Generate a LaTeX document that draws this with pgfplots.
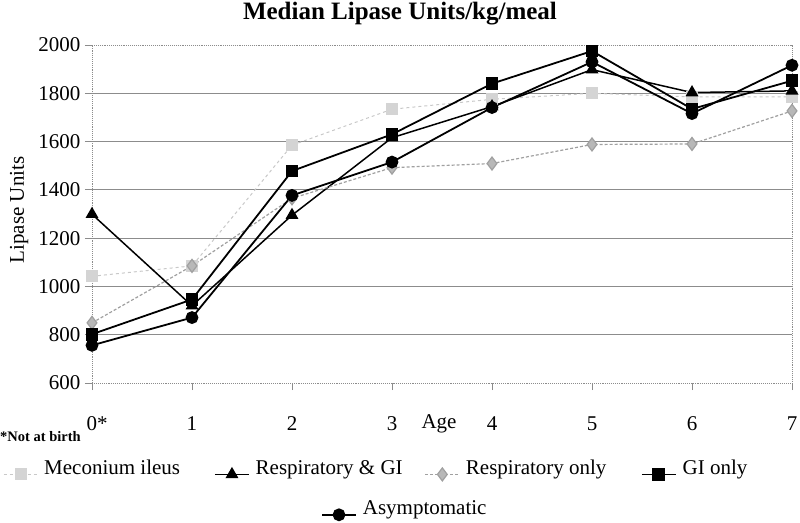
\documentclass[border=0pt]{standalone}
\usepackage{fontspec}
\setmainfont{Liberation Serif}
\usepackage{pgfplots}
\pgfplotsset{compat=1.18}
\definecolor{mecol}{HTML}{C8C8C8}
\definecolor{mefill}{HTML}{D4D4D4}
\definecolor{rocol}{HTML}{A0A0A0}
\definecolor{rofill}{HTML}{B8B8B8}
\definecolor{gridc}{HTML}{8C8C8C}
\begin{document}
\begin{tikzpicture}
\useasboundingbox (-92pt,-139pt) rectangle (708pt,383pt);
\pgfplotsset{
  lineleg/.style={legend image code/.code={
    \draw[##1, mark repeat=2, mark phase=2] plot coordinates {(0pt,0pt) (17pt,0pt) (34pt,0pt)};}},
}
\begin{axis}[
  at={(0pt,0pt)}, anchor=south west,
  scale only axis, width=700pt, height=338pt,
  xmin=0, xmax=7, ymin=600, ymax=2000,
  xtick={0,...,7}, xticklabels={0\rlap{*},1,2,3,4,5,6,7},
  ytick={600,800,...,2000},
  extra y ticks={800,1000,...,1800},
  extra y tick labels={},
  extra y tick style={ymajorgrids=true, major tick length=0pt},
  y grid style={gridc, line width=1.1pt},
  axis line style={gridc, densely dotted, line width=0.9pt},
  tick style={gridc, line width=0.9pt},
  tick align=outside, major tick length=7pt,
  xtick pos=bottom, ytick pos=left,
  /pgf/number format/assume math mode=true,
  /pgf/number format/1000 sep={},
  tick label style={font=\fontsize{21}{24}\selectfont, text=black},
  xticklabel style={yshift=-23pt},
  yticklabel style={xshift=-1pt},
  xlabel={Age},
  xlabel style={at={(axis description cs:0.4657,-0.136)}, anchor=base west, font=\fontsize{21}{24}\selectfont},
  ylabel={Lipase Units},
  ylabel style={at={(axis description cs:-0.104,0.512)}, anchor=center, font=\fontsize{21}{24}\selectfont},
  title={\textbf{Median Lipase Units/kg/meal}},
  title style={at={(axis description cs:0.44,1.059)}, anchor=base, yshift=0pt, font=\fontsize{25}{28}\selectfont},
  clip=false,
  legend columns=4,
  legend style={at={(-0.1271,-0.2585)}, anchor=west, draw=none, fill=none,
    inner sep=0pt, font=\fontsize{21}{24}\selectfont,
    nodes={inner sep=0pt, anchor=base west},
    /tikz/every odd column/.append style={column sep=6pt},
    /tikz/every even column/.append style={column sep=0pt}},
  legend cell align=left,
]
\addplot[lineleg, mecol, dashed, line width=1pt, mark=square*, mark size=5.5pt,
  mark options={solid, fill=mefill, draw=mefill}]
  coordinates {(0,1042) (1,1085) (2,1585) (3,1734) (4,1775) (5,1800) (6,1785) (7,1785)};
\addlegendentry{\makebox[170pt][l]{Meconium ileus}}
\addplot[lineleg, black, line width=1.5pt, mark=triangle*, mark size=6pt,
  mark options={solid, fill=black}]
  coordinates {(0,1299) (1,920) (2,1295) (3,1616) (4,1745) (5,1898) (6,1803) (7,1810)};
\addlegendentry{\makebox[169pt][l]{Respiratory \& GI}}
\addplot[lineleg, rocol, densely dashed, line width=1.2pt, mark=diamond*, mark size=6.5pt,
  mark options={solid, fill=rofill, draw=rocol}]
  coordinates {(0,849) (1,1085) (2,1365) (3,1492) (4,1509) (5,1588) (6,1590) (7,1727)};
\addlegendentry{\makebox[175pt][l]{Respiratory only}}
\addplot[lineleg, black, line width=1.8pt, mark=square*, mark size=5.5pt,
  mark options={solid, fill=black}]
  coordinates {(0,802) (1,946) (2,1478) (3,1630) (4,1840) (5,1975) (6,1735) (7,1852)};
\addlegendentry{GI only}
\addplot[black, line width=1.8pt, mark=*, mark size=5.5pt, mark options={solid, fill=black}, forget plot]
  coordinates {(0,756) (1,871) (2,1377) (3,1515) (4,1741) (5,1930) (6,1716) (7,1916)};
\node[anchor=base west, font=\fontsize{14.5}{16}\selectfont\bfseries, inner sep=0pt]
  at (axis description cs:-0.1314,-0.1716) {*Not at birth};
\end{axis}
\begin{axis}[
  at={(0pt,0pt)}, anchor=south west,
  scale only axis, width=700pt, height=338pt,
  xmin=0, xmax=7, ymin=600, ymax=2000,
  hide axis,
  legend style={at={(0.327,-0.3775)}, anchor=west, draw=none, fill=none,
    inner sep=0pt, font=\fontsize{21}{24}\selectfont,
    nodes={inner sep=0pt, anchor=base west},
    /tikz/every odd column/.append style={column sep=6pt}},
  legend cell align=left,
]
\addlegendimage{legend image code/.code={
    \draw[black, line width=1.8pt, mark=*, mark size=5.5pt, mark options={solid, fill=black}, mark repeat=2, mark phase=2] plot coordinates {(0pt,0pt) (17pt,0pt) (34pt,0pt)};}}
\addlegendentry{Asymptomatic}
\end{axis}
\end{tikzpicture}
\end{document}
